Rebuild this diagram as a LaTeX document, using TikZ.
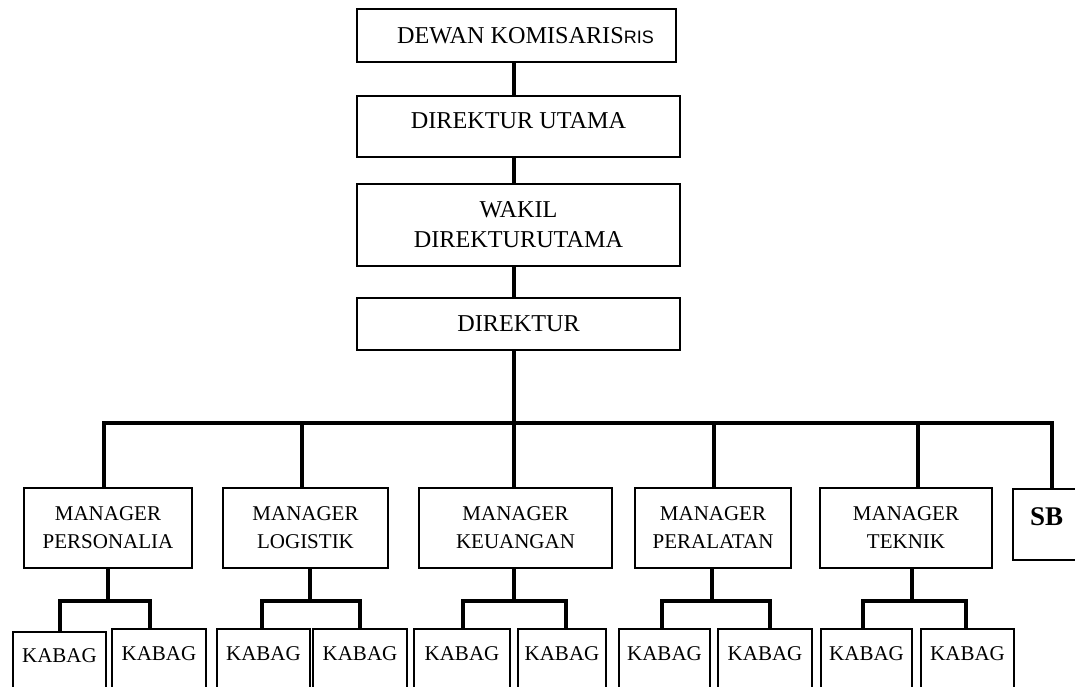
\documentclass[tikz,border=0pt]{standalone}
\usepackage{fontspec}
\setmainfont{Liberation Serif}
\newfontfamily\risfont{Liberation Sans}
\begin{document}
\begin{tikzpicture}[x=1pt,y=-1pt,
  box/.style={draw, line width=2.8pt, rectangle, inner sep=0pt, align=center},
  topf/.style={font=\fontsize{24.2}{30}\selectfont},
  manf/.style={font=\fontsize{21}{28}\selectfont},
  kab/.style={box, manf, minimum height=71pt, text depth=21pt},
  link/.style={line width=4pt}]
\useasboundingbox (0,0) rectangle (1075,687);
\clip (0,0) rectangle (1075,687);

% top chain
\node[box,topf,minimum width=319pt,minimum height=53pt] (dk) at (516.5,35.5)
  {\hspace*{18pt}DEWAN KOMISARIS{\risfont\fontsize{18}{20}\selectfont RIS}};
\node[box,topf,minimum width=323pt,minimum height=61pt,text depth=12pt] (du) at (518.5,126.5) {DIREKTUR UTAMA};
\node[box,topf,minimum width=323pt,minimum height=82pt] (wk) at (518.5,225) {WAKIL\\DIREKTURUTAMA};
\node[box,topf,minimum width=323pt,minimum height=52pt] (dr) at (518.5,324) {DIREKTUR};

% managers
\node[box,manf,minimum width=168pt,minimum height=80pt] (m1) at (108,528) {MANAGER\\PERSONALIA};
\node[box,manf,minimum width=165pt,minimum height=80pt] (m2) at (305.5,528) {MANAGER\\LOGISTIK};
\node[box,manf,minimum width=193pt,minimum height=80pt] (m3) at (515.5,528) {MANAGER\\KEUANGAN};
\node[box,manf,minimum width=156pt,minimum height=80pt] (m4) at (713,528) {MANAGER\\PERALATAN};
\node[box,manf,minimum width=172pt,minimum height=80pt] (m5) at (906,528) {MANAGER\\TEKNIK};
\node[box,font=\fontsize{27}{30}\selectfont\bfseries,minimum width=67pt,minimum height=71pt,text depth=15pt] (sb) at (1046.5,524.5) {SB};

% kabag
\node[kab,minimum width=93pt,minimum height=68pt] (ka1) at (59.5,666) {KABAG};
\node[kab,minimum width=94pt] (kb1) at (159,664.5) {KABAG};
\node[kab,minimum width=93pt] (ka2) at (263.5,664.5) {KABAG};
\node[kab,minimum width=94pt] (kb2) at (360,664.5) {KABAG};
\node[kab,minimum width=96pt] (ka3) at (462,664.5) {KABAG};
\node[kab,minimum width=88pt] (kb3) at (562,664.5) {KABAG};
\node[kab,minimum width=91pt] (ka4) at (664.5,664.5) {KABAG};
\node[kab,minimum width=94pt] (kb4) at (765,664.5) {KABAG};
\node[kab,minimum width=91pt] (ka5) at (866.5,664.5) {KABAG};
\node[kab,minimum width=93pt] (kb5) at (967.5,664.5) {KABAG};

% coordinates
\coordinate (ax) at (514,0);
\coordinate (b1) at (104,423);
\coordinate (b2) at (302,423);
\coordinate (b3) at (514,423);
\coordinate (b4) at (714,423);
\coordinate (b5) at (918,423);
\coordinate (b6) at (1052,423);
\coordinate (j1) at (108,601); \coordinate (l1) at (60,601);  \coordinate (r1) at (150,601);
\coordinate (j2) at (310,601); \coordinate (l2) at (262,601); \coordinate (r2) at (360,601);
\coordinate (j3) at (514,601); \coordinate (l3) at (463,601); \coordinate (r3) at (566,601);
\coordinate (j4) at (712,601); \coordinate (l4) at (662,601); \coordinate (r4) at (770,601);
\coordinate (j5) at (912,601); \coordinate (l5) at (863,601); \coordinate (r5) at (966,601);

% connectors
\draw[link] (ax |- dk.south) -- (ax |- du.north);
\draw[link] (ax |- du.south) -- (ax |- wk.north);
\draw[link] (ax |- wk.south) -- (ax |- dr.north);
\draw[link] (ax |- dr.south) -- (b3);
\draw[link] (b1 |- m1.north) -- (b1) -- (b6) -- (b6 |- sb.north);
\foreach \i in {2,...,5} {\draw[link] (b\i) -- (b\i |- m\i.north);}
\foreach \i in {1,...,5} {
  \draw[link] (j\i |- m\i.south) -- (j\i);
  \draw[link] (l\i |- ka\i.north) -- (l\i) -- (r\i) -- (r\i |- kb\i.north);
}
\end{tikzpicture}
\end{document}
